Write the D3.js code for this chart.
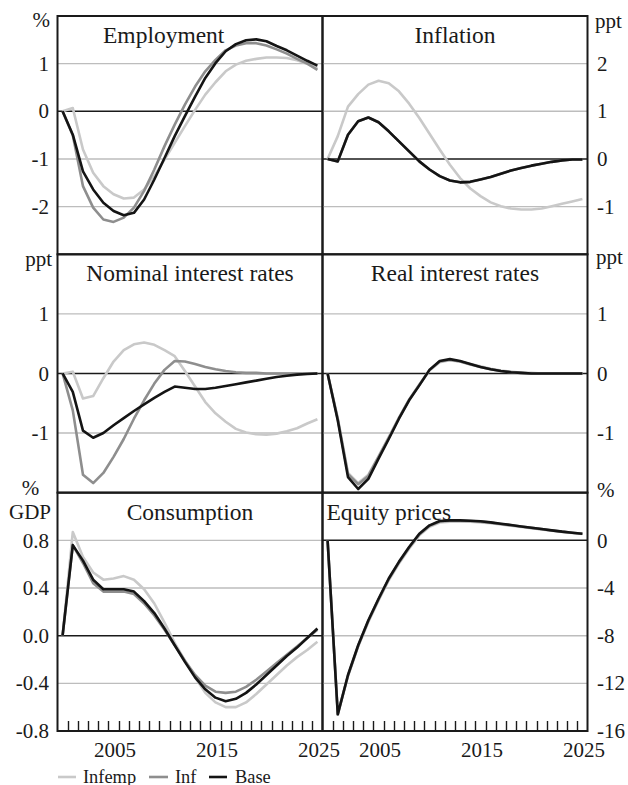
<!DOCTYPE html>
<html><head><meta charset="utf-8">
<script src="https://cdn.jsdelivr.net/npm/d3@7"></script>
<style>
body{margin:0;background:#fff}
svg{display:block}
text{font-family:"Liberation Serif","Times New Roman",serif;fill:#1a1a1a}
</style>
</head><body>
<svg id="chart" width="628" height="785"></svg>
<script>
// ---------- data ----------
const years = [2000,2001,2002,2003,2004,2005,2006,2007,2008,2009,2010,2011,2012,2013,2014,2015,2016,2017,2018,2019,2020,2021,2022,2023,2024,2025];
const yearLabels = [2005, 2015, 2025];
const seriesNames = ["Infemp", "Inf", "Base"];

const employmentInfemp = [0,0.07,-0.8,-1.29,-1.57,-1.74,-1.83,-1.81,-1.64,-1.36,-1.01,-0.66,-0.31,0.03,0.35,0.61,0.84,0.98,1.06,1.10,1.13,1.13,1.12,1.07,1.0,0.91];
const employmentInf    = [0,-0.5,-1.57,-2.02,-2.27,-2.32,-2.23,-2.02,-1.67,-1.22,-0.73,-0.28,0.14,0.52,0.84,1.08,1.28,1.38,1.43,1.43,1.38,1.30,1.21,1.10,1.0,0.87];
const employmentBase   = [0,-0.49,-1.26,-1.64,-1.92,-2.09,-2.18,-2.13,-1.85,-1.43,-0.98,-0.52,-0.1,0.31,0.70,1.01,1.26,1.41,1.49,1.51,1.47,1.37,1.28,1.17,1.06,0.96];

const inflationInfemp = [0,0.48,1.10,1.36,1.56,1.64,1.59,1.42,1.16,0.86,0.53,0.2,-0.12,-0.40,-0.62,-0.78,-0.91,-0.99,-1.04,-1.06,-1.06,-1.04,-0.99,-0.94,-0.89,-0.84];
const inflationInf    = [0,-0.05,0.51,0.79,0.87,0.77,0.58,0.37,0.16,-0.05,-0.22,-0.36,-0.45,-0.49,-0.48,-0.43,-0.38,-0.31,-0.24,-0.19,-0.14,-0.10,-0.06,-0.03,-0.01,-0.01];
const inflationBase   = [0,-0.05,0.51,0.79,0.87,0.77,0.58,0.37,0.16,-0.05,-0.22,-0.36,-0.45,-0.49,-0.48,-0.43,-0.38,-0.31,-0.24,-0.19,-0.14,-0.10,-0.06,-0.03,-0.01,-0.01];

const nominalInfemp = [0,0.03,-0.42,-0.38,-0.08,0.2,0.39,0.49,0.52,0.48,0.39,0.29,0.04,-0.22,-0.48,-0.67,-0.81,-0.93,-0.99,-1.02,-1.03,-1.01,-0.97,-0.92,-0.84,-0.77];
const nominalInf    = [0,-0.62,-1.70,-1.84,-1.67,-1.40,-1.10,-0.76,-0.45,-0.17,0.06,0.21,0.20,0.16,0.11,0.07,0.04,0.02,0.01,0.01,0,0,0,0,0,0];
const nominalBase   = [0,-0.31,-0.96,-1.08,-1.0,-0.87,-0.75,-0.63,-0.52,-0.41,-0.31,-0.22,-0.24,-0.26,-0.26,-0.24,-0.21,-0.18,-0.15,-0.12,-0.09,-0.06,-0.04,-0.02,-0.01,0];

const realInfemp = [0,-0.75,-1.67,-1.84,-1.70,-1.39,-1.07,-0.74,-0.44,-0.19,0.05,0.19,0.22,0.20,0.16,0.12,0.08,0.05,0.03,0.01,0.01,0,0,0,0,0];
const realInf    = [0,-0.77,-1.69,-1.86,-1.72,-1.40,-1.08,-0.75,-0.44,-0.19,0.06,0.20,0.23,0.20,0.15,0.11,0.07,0.04,0.02,0.01,0,0,0,0,0,0];
const realBase   = [0,-0.79,-1.74,-1.94,-1.77,-1.43,-1.10,-0.76,-0.45,-0.20,0.06,0.21,0.24,0.21,0.16,0.11,0.07,0.04,0.02,0.01,0,0,0,0,0,0];

const consumptionInfemp = [0,0.87,0.66,0.53,0.47,0.48,0.50,0.47,0.39,0.27,0.11,-0.06,-0.21,-0.35,-0.48,-0.56,-0.60,-0.60,-0.56,-0.49,-0.41,-0.33,-0.25,-0.18,-0.12,-0.05];
const consumptionInf    = [0,0.76,0.61,0.44,0.37,0.37,0.37,0.35,0.27,0.17,0.05,-0.08,-0.21,-0.33,-0.42,-0.47,-0.48,-0.47,-0.43,-0.37,-0.30,-0.23,-0.16,-0.09,-0.02,0.05];
const consumptionBase   = [0,0.76,0.63,0.47,0.39,0.39,0.39,0.37,0.29,0.19,0.06,-0.08,-0.22,-0.35,-0.45,-0.52,-0.55,-0.53,-0.48,-0.41,-0.33,-0.25,-0.17,-0.10,-0.02,0.06];

const equityInfemp = [0,-14.5,-11.4,-8.9,-6.85,-5.05,-3.35,-1.95,-0.7,0.42,1.14,1.5,1.57,1.58,1.56,1.51,1.43,1.33,1.23,1.12,1.01,0.91,0.81,0.71,0.62,0.54];
const equityInf    = [0,-14.6,-11.35,-8.85,-6.75,-4.95,-3.25,-1.85,-0.6,0.5,1.22,1.58,1.65,1.65,1.62,1.57,1.49,1.38,1.27,1.16,1.05,0.94,0.83,0.73,0.64,0.56];
const equityBase   = [0,-14.6,-11.3,-8.8,-6.7,-4.9,-3.2,-1.8,-0.56,0.56,1.26,1.62,1.68,1.68,1.65,1.6,1.51,1.4,1.29,1.17,1.06,0.95,0.84,0.73,0.64,0.56];

const employmentTicks = [1,0,-1,-2];
const inflationTicks = [2,1,0,-1];
const nominalTicks = [1,0,-1];
const realTicks = [1,0,-1];
const consumptionTicks = [0.8,0.4,0.0,-0.4,-0.8];
const equityTicks = [0,-4,-8,-12,-16];

// ---------- layout ----------
const colX = [57.5, 322.5], colW = 265;
const rowY = [16, 254.3, 492.7], rowH = 238.3;
const colors = {Infemp:"#c9c9c9", Inf:"#8e8e8e", Base:"#141414"};
const loc = d3.formatLocale({decimal:".", thousands:",", grouping:[3], currency:["",""], minus:"-"});
const fmtInt = loc.format("d"), fmt1 = loc.format(".1f");

const panels = [
  {title:"Employment", col:0, row:0, domain:[-3,2], ticks:employmentTicks, fmt:fmtInt,
   series:[employmentInfemp, employmentInf, employmentBase], titleX:45.5, anchor:"start",
   units:[{t:"%", x:50, y:27, a:"end"}]},
  {title:"Inflation", col:1, row:0, domain:[-2,3], ticks:inflationTicks, fmt:fmtInt,
   series:[inflationInfemp, inflationInf, inflationBase], anchor:"middle",
   units:[{t:"ppt", x:595, y:28, a:"start"}]},
  {title:"Nominal interest rates", col:0, row:1, domain:[-2,2], ticks:nominalTicks, fmt:fmtInt,
   series:[nominalInfemp, nominalInf, nominalBase], anchor:"middle",
   units:[{t:"ppt", x:52, y:266, a:"end"}]},
  {title:"Real interest rates", col:1, row:1, domain:[-2,2], ticks:realTicks, fmt:fmtInt,
   series:[realInfemp, realInf, realBase], anchor:"middle",
   units:[{t:"ppt", x:596, y:264, a:"start"}]},
  {title:"Consumption", col:0, row:2, domain:[-0.8,1.2], ticks:consumptionTicks, fmt:fmt1,
   series:[consumptionInfemp, consumptionInf, consumptionBase], anchor:"middle", bottom:true,
   units:[{t:"%", x:30.5, y:495, a:"middle"},{t:"GDP", x:30, y:519, a:"middle"}]},
  {title:"Equity prices", col:1, row:2, domain:[-16,4], ticks:equityTicks, fmt:fmtInt,
   series:[equityInfemp, equityInf, equityBase], titleX:4, anchor:"start", bottom:true,
   units:[{t:"%", x:597, y:497, a:"start"}]}
];

const svg = d3.select("#chart");

panels.forEach(p => {
  const x0 = colX[p.col], y0 = rowY[p.row];
  const x = d3.scaleBand().domain(years).range([x0, x0 + colW]).paddingInner(0).paddingOuter(0);
  const xc = d => x(d) + x.bandwidth() / 2;
  const y = d3.scaleLinear().domain(p.domain).range([y0 + rowH, y0]);
  const g = svg.append("g");

  // gridlines
  p.ticks.filter(t => t !== 0 && y(t) < y0 + rowH - 1 && y(t) > y0 + 1).forEach(t => {
    g.append("line")
      .attr("x1", x0).attr("x2", x0 + colW)
      .attr("y1", y(t)).attr("y2", y(t))
      .attr("stroke", "#bdbdbd").attr("stroke-width", 1.4);
  });

  // zero line
  g.append("line").attr("x1", x0).attr("x2", x0 + colW)
    .attr("y1", y(0)).attr("y2", y(0)).attr("stroke", "#1a1a1a").attr("stroke-width", 1.5);

  // y tick labels
  const left = p.col === 0;
  p.ticks.forEach(t => {
    g.append("text")
      .attr("x", left ? 49 : 597).attr("y", y(t)).attr("dy", "0.34em")
      .attr("text-anchor", left ? "end" : "start")
      .attr("font-size", 21).text(p.fmt(t));
  });

  // unit labels
  p.units.forEach(u => {
    g.append("text").attr("x", u.x).attr("y", u.y).attr("text-anchor", u.a)
      .attr("font-size", 21).text(u.t);
  });

  // title
  const tx = p.anchor === "middle" ? x0 + colW / 2 : x0 + p.titleX;
  g.append("text").attr("x", tx).attr("y", y0 + 27).attr("text-anchor", p.anchor)
    .attr("font-size", 23.5).text(p.title);

  // series lines
  const line = d3.line().x((d, i) => xc(years[i])).y(d => y(d)).curve(d3.curveLinear);
  p.series.forEach((s, k) => {
    g.append("path").datum(s).attr("d", line)
      .attr("fill", "none").attr("stroke", colors[seriesNames[k]])
      .attr("stroke-width", 2.6).attr("stroke-linejoin", "round");
  });

  // border
  g.append("rect").attr("x", x0).attr("y", y0).attr("width", colW).attr("height", rowH)
    .attr("fill", "none").attr("stroke", "#1a1a1a").attr("stroke-width", 2);

  // bottom axis ticks + year labels
  if (p.bottom) {
    const yb = y0 + rowH;
    years.slice(1).forEach(yr => {
      const tx2 = Math.round(x(yr)) + 0.5;
      g.append("line")
        .attr("x1", tx2).attr("x2", tx2)
        .attr("y1", yb).attr("y2", yb - 10)
        .attr("stroke", "#1a1a1a").attr("stroke-width", 1.4);
    });
    yearLabels.forEach(yr => {
      g.append("text")
        .attr("x", xc(yr) + 1.5).attr("y", yb + 26)
        .attr("text-anchor", "middle").attr("font-size", 21).text(yr);
    });
  }
});

// legend
const legend = svg.append("g");
const legendItems = [
  {name:"Infemp", x1:58, x2:76, tx:83},
  {name:"Inf", x1:149, x2:168, tx:175},
  {name:"Base", x1:209, x2:227, tx:235}
];
legendItems.forEach(it => {
  legend.append("line").attr("x1", it.x1).attr("x2", it.x2).attr("y1", 777).attr("y2", 777)
    .attr("stroke", colors[it.name]).attr("stroke-width", 2.6);
  legend.append("text").attr("x", it.tx).attr("y", 782.5).attr("font-size", 18.4).text(it.name);
});
</script>
</body></html>
